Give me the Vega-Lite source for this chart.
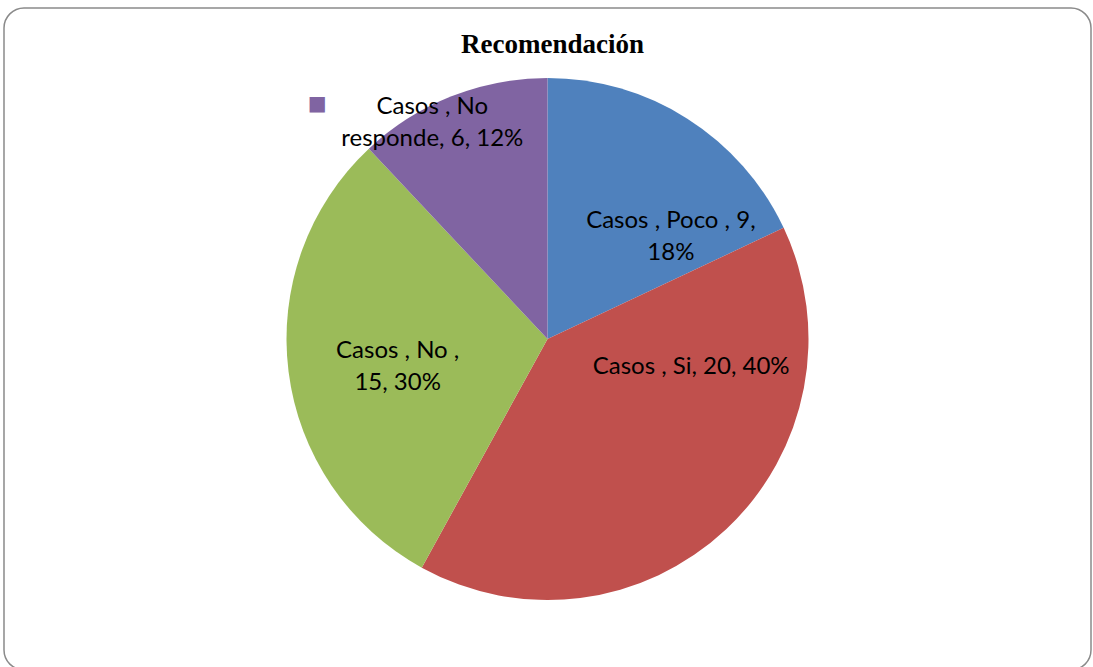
{
  "$schema": "https://vega.github.io/schema/vega-lite/v6.json",
  "width": 1087,
  "height": 662,
  "autosize": "none",
  "padding": {"left": 4, "top": 8, "right": 2, "bottom": 0},
  "background": "white",
  "view": {"stroke": "#8a8a8a", "strokeWidth": 1.5, "cornerRadius": 20, "fill": "white"},
  "config": {
    "view": {"stroke": "#8a8a8a", "strokeWidth": 1.5, "cornerRadius": 20},
    "text": {"lineBreak": "\n"}
  },
  "title": {
    "text": "Recomendación",
    "font": "Liberation Serif",
    "fontSize": 27,
    "fontWeight": "bold",
    "color": "#000000",
    "anchor": "middle",
    "baseline": "alphabetic",
    "offset": -45,
    "dx": 5,
    "dy": 27
  },
  "data": {
    "values": [
      {"categoria": "Poco", "casos": 9, "orden": 1, "etiqueta": "Casos , Poco , 9,\n18%"},
      {"categoria": "Si", "casos": 20, "orden": 2, "etiqueta": "Casos , Si, 20, 40%"},
      {"categoria": "No", "casos": 15, "orden": 3, "etiqueta": "Casos , No ,\n15, 30%"},
      {"categoria": "No responde", "casos": 6, "orden": 4, "etiqueta": "Casos , No\nresponde, 6, 12%"}
    ]
  },
  "encoding": {
    "theta": {"field": "casos", "type": "quantitative", "stack": true},
    "order": {"field": "orden", "type": "quantitative"}
  },
  "layer": [
    {
      "mark": {"type": "arc", "outerRadius": 261},
      "encoding": {
        "color": {
          "field": "categoria",
          "type": "nominal",
          "scale": {"domain": ["Poco", "Si", "No", "No responde"], "range": ["#4F81BD", "#C0504D", "#9BBB59", "#8064A2"]},
          "legend": null
        }
      }
    },
    {
      "mark": {"type": "text", "radius": 150, "font": "Lato", "fontSize": 24, "lineHeight": 32, "color": "#000000", "align": "center", "baseline": "middle", "dx": 43, "dy": 9},
      "encoding": {
        "detail": {"field": "categoria"},
        "text": {"condition": {"test": "datum.categoria === 'Poco'", "field": "etiqueta"}, "value": ""}
      }
    },
    {
      "mark": {"type": "text", "radius": 150, "font": "Lato", "fontSize": 24, "lineHeight": 32, "color": "#000000", "align": "center", "baseline": "middle", "dx": 41, "dy": -81},
      "encoding": {
        "detail": {"field": "categoria"},
        "text": {"condition": {"test": "datum.categoria === 'Si'", "field": "etiqueta"}, "value": ""}
      }
    },
    {
      "mark": {"type": "text", "radius": 150, "font": "Lato", "fontSize": 24, "lineHeight": 32, "color": "#000000", "align": "center", "baseline": "middle", "dx": -1, "dy": -7},
      "encoding": {
        "detail": {"field": "categoria"},
        "text": {"condition": {"test": "datum.categoria === 'No'", "field": "etiqueta"}, "value": ""}
      }
    },
    {
      "mark": {"type": "text", "radius": 150, "font": "Lato", "fontSize": 24, "lineHeight": 32, "color": "#000000", "align": "center", "baseline": "middle", "dx": -60, "dy": -93},
      "encoding": {
        "detail": {"field": "categoria"},
        "text": {"condition": {"test": "datum.categoria === 'No responde'", "field": "etiqueta"}, "value": ""}
      }
    },
    {
      "mark": {"type": "text", "radius": 150, "font": "DejaVu Sans", "fontSize": 20, "color": "#8064A2", "align": "center", "baseline": "middle", "dx": -175, "dy": -96},
      "encoding": {
        "detail": {"field": "categoria"},
        "text": {"condition": {"test": "datum.categoria === 'No responde'", "value": "■"}, "value": ""}
      }
    }
  ]
}
